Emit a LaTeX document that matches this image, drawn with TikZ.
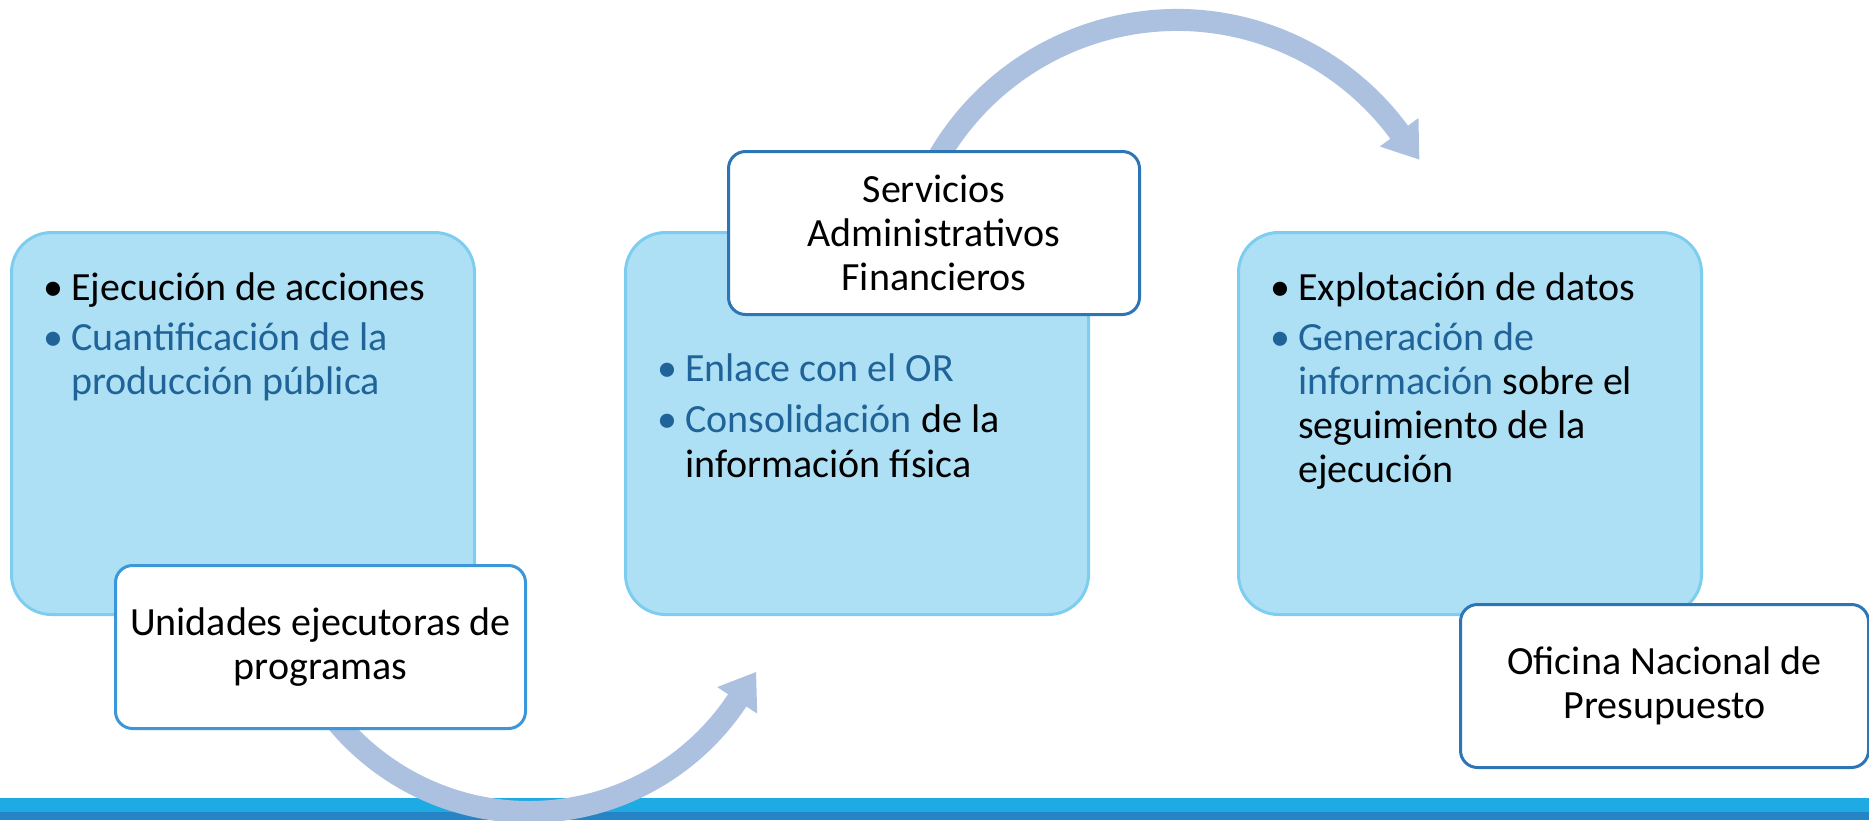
\documentclass[tikz,border=0pt]{standalone}
\usepackage{fontspec}
\setmainfont{Carlito}
\usetikzlibrary{calc}
\definecolor{boxfill}{HTML}{ADE0F5}
\definecolor{boxline}{HTML}{7DCDEF}
\definecolor{wline}{HTML}{2E75B6}
\definecolor{wlineA}{HTML}{3C97DA}
\definecolor{arrowc}{HTML}{ACC1DF}
\definecolor{barlight}{HTML}{1EAAE2}
\definecolor{bardark}{HTML}{2684C6}
\definecolor{txtblue}{HTML}{1F6399}
\newcommand{\bul}{\leavevmode\llap{•\hspace{8pt}}}
\begin{document}
\begin{tikzpicture}[x=1pt,y=1pt,
  bigbox/.style={draw=boxline, fill=boxfill, line width=3pt, rounded corners=40pt,
    minimum width=463pt, minimum height=382pt, anchor=north west, inner sep=0pt},
  labelbox/.style={draw=wline, fill=white, line width=3pt, rounded corners=17pt,
    minimum width=410pt, minimum height=163pt, anchor=north west, align=center,
    inner sep=0pt, font=\fontsize{40}{44}\selectfont},
  itemlist/.style={anchor=base west, inner sep=0pt, align=flush left, text width=400pt,
    font=\fontsize{40}{44}\selectfont},
  flow/.style={draw=arrowc, line width=22pt},
  head/.style={fill=arrowc}
]
\useasboundingbox (0,0) rectangle (1869,-820);
% bottom bars
\fill[barlight] (0,-798) rectangle (1869,-812);
\fill[bardark] (0,-812) rectangle (1869,-820);
% curved arrows
\coordinate (c1) at (529,-562);
\coordinate (c2) at (1177,-296);
\draw[flow] ($(c1)+(212:250pt)$) arc[start angle=212, end angle=327, radius=250pt];
\fill[head] ($(c1)+(326.4:226pt)$) -- ($(c1)+(326.4:274pt)$) -- ($(c1)+(326.4:250pt)+(56.4:34pt)$) -- cycle;
\draw[flow] ($(c2)+(155:276pt)$) arc[start angle=155, end angle=36, radius=276pt];
\fill[head] ($(c2)+(36.4:252pt)$) -- ($(c2)+(36.4:300pt)$) -- ($(c2)+(36.4:276pt)+(-53.6:34pt)$) -- cycle;
% big boxes
\node[bigbox] (b1) at (10,-231) {};
\node[bigbox] (b2) at (624,-231) {};
\node[bigbox] (b3) at (1237,-231) {};
% bullet lists
\node[itemlist] (l1) at (71,-300) {\bul Ejecución de acciones\\[6pt]{\color{txtblue}\bul Cuantificación de la\\producción pública}};
\node[itemlist, font=\fontsize{40}{45}\selectfont] (l2) at (685,-381) {{\color{txtblue}\bul Enlace con el OR}\\[6pt]{\color{txtblue}\bul Consolidación} de la\\información física};
\node[itemlist] (l3) at (1298,-300) {\bul Explotación de datos\\[6pt]{\color{txtblue}\bul Generación de\\información} sobre el\\seguimiento de la\\ejecución};
% label boxes
\node[labelbox, draw=wlineA] (u) at (114,-564) {Unidades ejecutoras de\\programas};
\node[labelbox, minimum width=411pt] (s) at (727,-150) {Servicios\\Administrativos\\Financieros};
\node[labelbox, minimum width=408pt] (o) at (1459,-603) {Oficina Nacional de\\Presupuesto};
\end{tikzpicture}
\end{document}
